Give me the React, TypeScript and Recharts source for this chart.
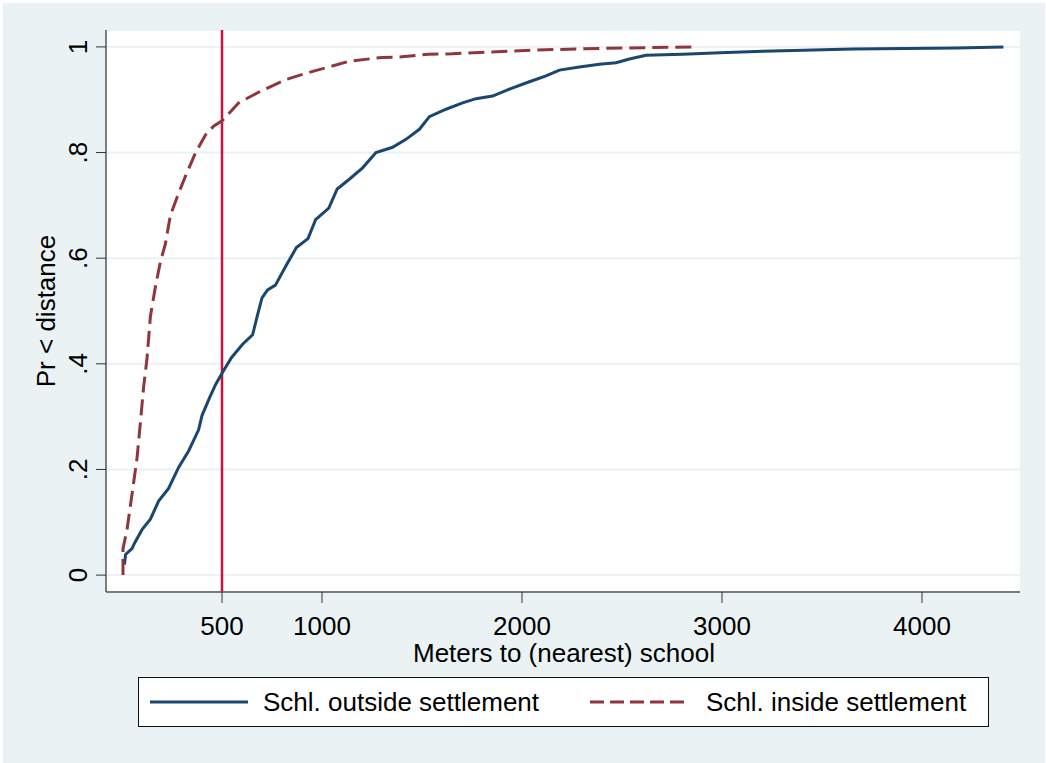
import React from 'react';
import { LineChart, Line, XAxis, YAxis, CartesianGrid, ReferenceLine } from 'recharts';

// distances (m) and cumulative shares
const outsideDist = [
  12, 18, 50, 62, 100, 142, 183, 233, 283, 333, 383, 400, 437, 467, 500, 548, 603, 653, 680, 700,
  728, 767, 822, 872, 930, 968, 1034, 1076, 1135, 1203, 1270, 1353, 1420, 1487, 1537, 1620, 1703,
  1770, 1853, 1937, 2037, 2120, 2187, 2287, 2387, 2470, 2537, 2620, 2803, 2990, 3205, 3657, 4173, 4407,
];
const outsideShare = [
  0.02, 0.039, 0.05, 0.06, 0.086, 0.106, 0.14, 0.164, 0.204, 0.235, 0.275, 0.302, 0.335, 0.36, 0.382,
  0.412, 0.437, 0.455, 0.496, 0.525, 0.54, 0.549, 0.587, 0.62, 0.637, 0.673, 0.695, 0.731, 0.749,
  0.771, 0.8, 0.81, 0.825, 0.844, 0.868, 0.882, 0.894, 0.902, 0.907, 0.92, 0.934, 0.945, 0.956,
  0.962, 0.967, 0.97, 0.977, 0.984, 0.986, 0.989, 0.992, 0.996, 0.998, 1.0,
];

const insideDist = [
  5, 5, 25, 50, 75, 92, 108, 125, 142, 167, 192, 217, 242, 275, 317, 367, 417, 458, 500, 583, 687,
  817, 903, 967, 1137, 1300, 1387, 1533, 1653, 2053, 2387, 2870,
];
const insideShare = [
  0, 0.05, 0.086, 0.153, 0.221, 0.289, 0.356, 0.41, 0.49, 0.546, 0.593, 0.627, 0.681, 0.715, 0.755,
  0.799, 0.833, 0.85, 0.86, 0.894, 0.915, 0.938, 0.948, 0.955, 0.973, 0.98, 0.981, 0.986, 0.987,
  0.994, 0.997, 1.0,
];

const xTicks = [500, 1000, 2000, 3000, 4000];
const yTicks = [0, 0.2, 0.4, 0.6, 0.8, 1];

const outsideData = outsideDist.map((x, i) => ({ x, y: outsideShare[i] }));
const insideData = insideDist.map((x, i) => ({ x, y: insideShare[i] }));

const FONT = '"Liberation Sans", Arial, sans-serif';
const BLUE = '#1A476F';
const MAROON = '#90353B';
const BG = '#EAF2F3';

const fmtY = (v: number) => (v === 0 ? '0' : v === 1 ? '1' : String(v).replace(/^0/, ''));

const XTick = (props: any) => (
  <text x={props.x} y={635} textAnchor="middle" fontSize={26} fontFamily={FONT} fill="#000">
    {props.payload.value}
  </text>
);

const YTick = (props: any) => (
  <text
    transform={`translate(87, ${props.y}) rotate(-90)`}
    textAnchor="middle"
    fontSize={26}
    fontFamily={FONT}
    fill="#000"
  >
    {fmtY(props.payload.value)}
  </text>
);

export default function App() {
  return (
    <div style={{ position: 'relative', width: 1046, height: 763, background: '#fff' }}>
      <style>{'body{margin:0}'}</style>
      <div style={{ position: 'absolute', left: 3, top: 3, width: 1042, height: 760, background: BG }} />
      <div style={{ position: 'absolute', left: 0, top: 0 }}>
        <LineChart width={1046} height={763} margin={{ top: 30, right: 26, bottom: 0, left: 0 }}>
          <CartesianGrid
            horizontal
            vertical={false}
            fill="#fff"
            fillOpacity={1}
            stroke={BG}
            strokeWidth={2}
          />
          <XAxis
            type="number"
            dataKey="x"
            domain={[-80, 4490]}
            allowDataOverflow
            ticks={xTicks}
            height={171}
            tickSize={11}
            tick={XTick}
            stroke="#555"
            strokeWidth={1.5}
            tickLine={{ stroke: '#333', strokeWidth: 1 }}
            label={() => (
              <text x={564} y={662} textAnchor="middle" fontSize={26} fontFamily={FONT} fill="#000">
                Meters to (nearest) school
              </text>
            )}
          />
          <YAxis
            type="number"
            dataKey="y"
            domain={[-0.032, 1.032]}
            allowDataOverflow
            ticks={yTicks}
            width={106}
            tickSize={10}
            tick={YTick}
            stroke="#555"
            strokeWidth={1.5}
            tickLine={{ stroke: '#333', strokeWidth: 1 }}
            label={() => (
              <text
                transform="translate(55, 311) rotate(-90)"
                textAnchor="middle"
                fontSize={26}
                fontFamily={FONT}
                fill="#000"
              >
                Pr &lt; distance
              </text>
            )}
          />
          <ReferenceLine x={500} stroke="#CC1040" strokeWidth={2.5} />
          <Line
            data={outsideData}
            dataKey="y"
            type="linear"
            stroke={BLUE}
            strokeWidth={3}
            dot={false}
            isAnimationActive={false}
          />
          <Line
            data={insideData}
            dataKey="y"
            type="linear"
            stroke={MAROON}
            strokeWidth={3}
            strokeDasharray="16 7"
            dot={false}
            isAnimationActive={false}
          />
        </LineChart>
      </div>
      <div
        style={{
          position: 'absolute',
          left: 138,
          top: 677,
          width: 851,
          height: 50,
          boxSizing: 'border-box',
          border: '1px solid #111',
          background: '#fff',
          fontFamily: FONT,
          fontSize: 26,
          color: '#000',
        }}
      >
        <svg width={851} height={48} style={{ position: 'absolute', left: 0, top: 0 }}>
          <line x1={11} x2={109} y1={24} y2={24} stroke={BLUE} strokeWidth={3} />
          <line x1={451} x2={551} y1={24} y2={24} stroke={MAROON} strokeWidth={3} strokeDasharray="14 6" />
        </svg>
        <span style={{ position: 'absolute', left: 124, top: 9, lineHeight: '30px' }}>Schl. outside settlement</span>
        <span style={{ position: 'absolute', left: 567, top: 9, lineHeight: '30px' }}>Schl. inside settlement</span>
      </div>
    </div>
  );
}
